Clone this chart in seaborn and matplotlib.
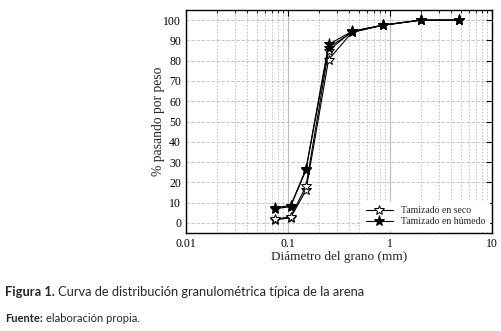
import numpy as np
import pandas as pd
import matplotlib
matplotlib.use("Agg")
import matplotlib.pyplot as plt
import seaborn as sns
from matplotlib.ticker import LogLocator, FixedLocator, NullFormatter

# sieve openings (mm) and % passing
diametro = [0.075, 0.106, 0.15, 0.25, 0.425, 0.85, 2.0, 4.75]
seco_1 = [1.5, 2.5, 16.0, 80.5, 94.0, 97.5, 100.0, 100.0]
seco_2 = [1.8, 3.0, 18.0, 85.0, 94.5, 97.5, 100.0, 100.0]
humedo = [7.5, 8.5, 26.5, 88.0, 94.5, 97.5, 100.0, 100.0]
humedo_2 = [7.0, 8.0, 26.0, 86.5, 94.0, 97.5, 100.0, 100.0]

x_ticks = [0.01, 0.1, 1, 10]
x_tick_labels = ["0.01", "0.1", "1", "10"]
y_ticks = [0, 10, 20, 30, 40, 50, 60, 70, 80, 90, 100]

sns.set_style("white")
serif = ["Liberation Serif", "DejaVu Serif"]
plt.rcParams["font.family"] = serif

fig = plt.figure(figsize=(5.02, 3.31), dpi=100)
ax = fig.add_axes([186 / 502, 1 - 233 / 331, (492 - 186) / 502, (233 - 10) / 331])

df = pd.DataFrame({"d": diametro, "seco_1": seco_1, "seco_2": seco_2,
                   "humedo": humedo, "humedo_2": humedo_2})

for col, mfc, lab in [("seco_1", "white", "Tamizado en seco"),
                      ("seco_2", "white", None),
                      ("humedo_2", "black", None),
                      ("humedo", "black", "Tamizado en húmedo")]:
    sns.lineplot(data=df, x="d", y=col, ax=ax, color="black", lw=0.8,
                 marker="*", markersize=8 if mfc == "black" else 7.5,
                 markerfacecolor=mfc, markeredgecolor="black",
                 markeredgewidth=0.7, label=lab, legend=False)

ax.set_xscale("log")
ax.set_xlim(0.01, 10)
ax.set_ylim(-5, 105)
ax.xaxis.set_major_locator(FixedLocator(x_ticks))
ax.set_xticklabels(x_tick_labels)
ax.xaxis.set_minor_locator(LogLocator(base=10, subs=np.arange(2, 10)))
ax.xaxis.set_minor_formatter(NullFormatter())
ax.set_yticks(y_ticks)

ax.grid(True, which="major", axis="x", color="#bbbbbb", lw=0.8, ls="-")
ax.grid(True, which="minor", axis="x", color="#bbbbbb", lw=0.6, ls=(0, (2, 2)))
ax.grid(True, which="major", axis="y", color="#bbbbbb", lw=0.6, ls=(0, (4, 2)))
ax.set_axisbelow(True)

ax.tick_params(which="both", direction="in", top=True, right=True,
               labelsize=8.5, colors="black")
ax.tick_params(which="major", length=4, width=0.8)
ax.tick_params(which="minor", length=2, width=0.6)
for s in ax.spines.values():
    s.set_color("black")
    s.set_linewidth(1.0)

ax.set_xlabel("Diámetro del grano (mm)", fontsize=9.5, labelpad=1)
ax.set_ylabel("% pasando por peso", fontsize=9.8, labelpad=-1)

leg = ax.legend(loc="lower right", fontsize=7, frameon=True, fancybox=False,
                edgecolor="white", framealpha=1, handlelength=2.8,
                borderaxespad=0.3, labelspacing=0.2)

# caption below the chart
sans = ["Lato", "DejaVu Sans"]
renderer = fig.canvas.get_renderer()


def caption(y, bold, rest, size):
    t = fig.text(5 / 502, 1 - y / 331, bold, fontsize=size, fontweight="bold",
                 family=sans, va="center")
    bb = t.get_window_extent(renderer)
    fig.text((bb.x1 + 3) / 502, 1 - y / 331, rest, fontsize=size,
             family=sans, va="center")


caption(292, "Figura 1.", "Curva de distribución granulométrica típica de la arena", 9.3)
caption(318, "Fuente:", "elaboración propia.", 8.0)

fig.savefig("out.png", dpi=100)
